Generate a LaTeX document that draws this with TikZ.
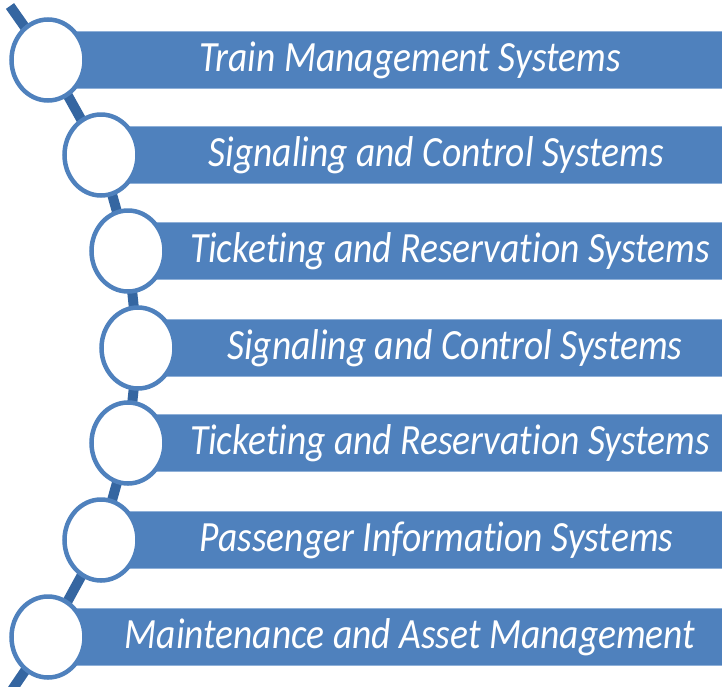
\documentclass[tikz,border=0pt]{standalone}
\usepackage{fontspec}
\setmainfont{Carlito}[Ligatures=NoCommon]
\usetikzlibrary{shapes.geometric,backgrounds}
\definecolor{barblue}{HTML}{4F81BD}
\definecolor{spineblue}{HTML}{3566A1}
\definecolor{edgeblue}{HTML}{8FB0D8}
\newcommand\stretched[1]{\scalebox{1}[1.15]{#1}}

\begin{document}
\begin{tikzpicture}[
    x=1pt, y=-1pt,
    font=\fontsize{37.5}{40}\selectfont\itshape,
    bar/.style={fill=barblue, draw=edgeblue, line width=0.8pt, text=white,
      minimum height=57pt, inner sep=0pt},
    ring/.style={ellipse, draw=barblue, line width=4.5pt, fill=white,
      minimum width=73pt, minimum height=81pt, inner sep=0pt},
    spine/.style={spineblue, line width=10pt}
  ]
    \clip (0,0) rectangle (722,686);

    % bars run past the right edge, the clip cuts them
    \node[bar, minimum width=724pt] (bar1) at (410,60) {\stretched{Train Management Systems}};
    \node[bar, minimum width=671pt] (bar2) at (436.5,155) {\stretched{Signaling and Control Systems}};
    \node[bar, minimum width=644pt] (bar3) at (450,251) {\stretched{Ticketing and Reservation Systems}};
    \node[bar, minimum width=634pt] (bar4) at (455,348) {\stretched{Signaling and Control Systems}};
    \node[bar, minimum width=644pt] (bar5) at (450,443) {\stretched{Ticketing and Reservation Systems}};
    \node[bar, minimum width=671pt] (bar6) at (436.5,540) {\stretched{Passenger Information Systems}};
    \node[bar, minimum width=724pt] (bar7) at (410,637) {\stretched{Maintenance and Asset Management}};

    \node[ring] (dot1) at (48,60) {};
    \node[ring] (dot2) at (101,155) {};
    \node[ring] (dot3) at (128,251) {};
    \node[ring] (dot4) at (138,348) {};
    \node[ring] (dot5) at (128,443) {};
    \node[ring] (dot6) at (101,540) {};
    \node[ring] (dot7) at (48,637) {};

    \coordinate (top) at (10,6);
    \coordinate (bottom) at (12,690);

    \begin{scope}[on background layer]
      \draw[spine] (top) -- (dot1.center) -- (dot2.center) -- (dot3.center)
        -- (dot4.center) -- (dot5.center) -- (dot6.center) -- (dot7.center)
        -- (bottom);
    \end{scope}
  \end{tikzpicture}
\end{document}
